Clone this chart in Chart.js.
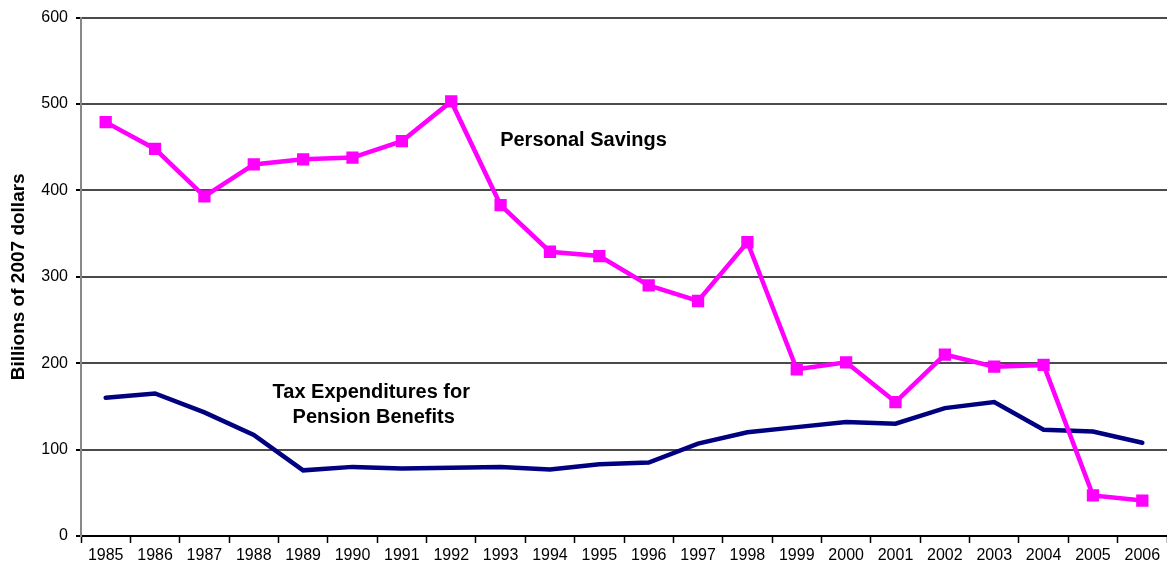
<!DOCTYPE html>
<html>
<head>
<meta charset="utf-8">
<script src="https://cdn.jsdelivr.net/npm/chart.js@4.4.1/dist/chart.umd.min.js"></script>
<style>
  html, body { margin: 0; padding: 0; background: #fff; }
  #wrap { width: 1167px; height: 569px; position: relative; }
</style>
</head>
<body>
<div id="wrap"><canvas id="grafica"></canvas></div>
<script>
// datos
const years = ['1985','1986','1987','1988','1989','1990','1991','1992','1993','1994','1995',
               '1996','1997','1998','1999','2000','2001','2002','2003','2004','2005','2006'];
const personalSavings = [479, 448, 393, 430, 436, 438, 457, 503, 383, 329, 324,
                         290, 272, 340, 193, 201, 155, 210, 196, 198, 47, 41];
const taxExpenditures = [160, 165, 143, 117, 76, 80, 78, 79, 80, 77, 83,
                         85, 107, 120, 126, 132, 130, 148, 155, 123, 121, 108];
const yTicks = [0, 100, 200, 300, 400, 500, 600];

// etiquetas dentro del grafico: [texto, posicion x (categoria), valor y]
const notas = [
    ['Personal Savings', 9.68, 458],
    ['Tax Expenditures for', 5.38, 166],
    ['Pension Benefits', 5.43, 137]
];

const FONT = '"Liberation Sans", Arial, sans-serif';

const notasPlugin = {
    id: 'notas',
    afterDatasetsDraw(chart) {
        const ctx = chart.ctx;
        const x = chart.scales.x, y = chart.scales.y;
        ctx.save();
        ctx.font = 'bold 20px ' + FONT;
        ctx.fillStyle = '#000';
        ctx.textAlign = 'center';
        ctx.textBaseline = 'middle';
        notas.forEach(n => ctx.fillText(n[0], x.getPixelForValue(n[1]), y.getPixelForValue(n[2])));
        ctx.restore();
    }
};

new Chart(document.getElementById('grafica'), {
    type: 'line',
    data: {
        labels: years,
        datasets: [{
            label: 'Personal Savings',
            data: personalSavings,
            borderColor: '#FF00FF',
            backgroundColor: '#FF00FF',
            borderWidth: 4.5,
            pointStyle: 'rect',
            pointRadius: 5.5,
            pointHoverRadius: 5.5,
            tension: 0
        }, {
            label: 'Tax Expenditures for Pension Benefits',
            data: taxExpenditures,
            borderColor: '#000080',
            backgroundColor: '#000080',
            borderWidth: 4.5,
            borderCapStyle: 'round',
            pointRadius: 0,
            tension: 0
        }]
    },
    options: {
        responsive: true,
        maintainAspectRatio: false,
        animation: false,
        // sin autoPadding para que el area llegue al borde derecho
        layout: { autoPadding: false, padding: { top: 16, right: 0, left: 0, bottom: 0 } },
        plugins: { legend: { display: false }, tooltip: { enabled: false } },
        scales: {
            x: {
                offset: true,
                grid: { offset: true, drawOnChartArea: false, tickLength: 7, tickColor: '#000', tickWidth: 1.5 },
                border: { color: '#000', width: 2 },
                ticks: { color: '#000', font: { family: FONT, size: 16 }, padding: 3, maxRotation: 0, autoSkip: false },
                afterFit(s) { s.height = 33; s.paddingLeft = 0; s.paddingRight = 0; }
            },
            y: {
                min: 0, max: 600,
                afterBuildTicks(s) { s.ticks = yTicks.map(v => ({ value: v })); },
                grid: {
                    color: ctx => ctx.tick && ctx.tick.value === 0 ? 'rgba(0,0,0,0)' : '#4a4a4a',
                    lineWidth: 2,
                    tickLength: 5,
                    tickColor: '#000'
                },
                border: { color: '#888', width: 2 },
                ticks: { color: '#000', font: { family: FONT, size: 16 }, padding: 8 },
                title: {
                    display: true,
                    text: 'Billions of 2007 dollars',
                    color: '#000',
                    font: { family: FONT, size: 19, weight: 'bold' },
                    padding: { top: 7, bottom: 0 }
                },
                afterFit(s) { s.width = 81; }
            }
        }
    },
    plugins: [notasPlugin]
});
</script>
</body>
</html>
